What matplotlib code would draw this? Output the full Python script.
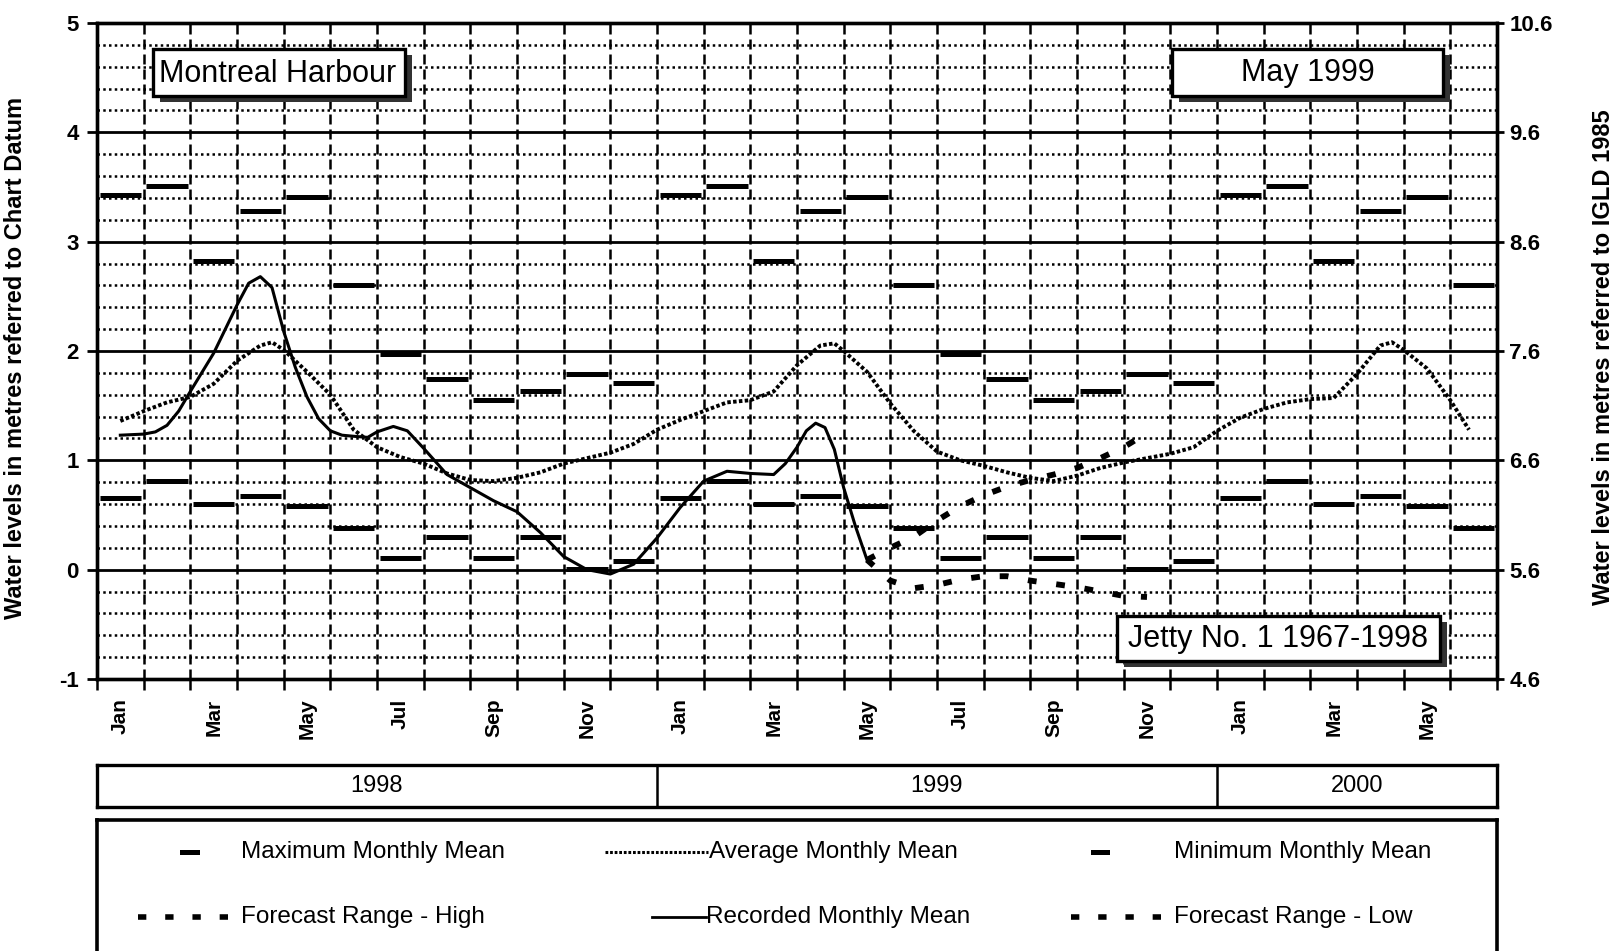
import numpy as np
import matplotlib
matplotlib.use("Agg")
import matplotlib.pyplot as plt
from matplotlib.patches import Rectangle
from matplotlib.lines import Line2D

plt.rcParams['font.family'] = ['Liberation Sans', 'DejaVu Sans']

# ---- data (t = months since 1 Jan 1998, 0.5 = mid January) ----
month_names = ['Jan', 'Feb', 'Mar', 'Apr', 'May', 'Jun',
               'Jul', 'Aug', 'Sep', 'Oct', 'Nov', 'Dec']
n_months = 30
years = ['1998', '1999', '2000']
year_lengths = [12, 12, 6]

# long-term monthly extremes, Jetty No. 1 1967-1998
max_monthly = [3.43, 3.51, 2.82, 3.28, 3.41, 2.60, 1.97, 1.74, 1.55, 1.63, 1.79, 1.71]
min_monthly = [0.66, 0.81, 0.60, 0.67, 0.58, 0.38, 0.11, 0.30, 0.11, 0.30, 0.01, 0.08]

avg_t = [0.5, 1.0, 1.5, 2.0, 2.5, 3.0, 3.5, 3.75, 4.0, 4.5, 5.0, 5.5, 6.0, 6.5,
         7.0, 7.5, 8.0, 8.5, 9.0, 9.5, 10.0, 10.5, 11.0, 11.5, 12.0, 12.5, 13.0,
         13.5, 14.0, 14.5, 15.0, 15.5, 15.8, 16.0, 16.5, 17.0, 17.5, 18.0, 18.5,
         19.0, 19.5, 20.0, 20.5, 21.0, 21.5, 22.0, 22.5, 23.0, 23.5, 24.0, 24.5,
         25.0, 25.5, 26.0, 26.5, 27.0, 27.5, 27.75, 28.0, 28.5, 29.0, 29.4]
avg_level = [1.36, 1.45, 1.53, 1.58, 1.70, 1.91, 2.05, 2.08, 2.01, 1.81, 1.60,
             1.28, 1.12, 1.03, 0.97, 0.88, 0.82, 0.81, 0.84, 0.89, 0.97, 1.02,
             1.07, 1.15, 1.28, 1.37, 1.45, 1.53, 1.55, 1.63, 1.87, 2.05, 2.07,
             2.00, 1.81, 1.52, 1.27, 1.08, 1.00, 0.95, 0.89, 0.84, 0.81, 0.86,
             0.93, 0.98, 1.02, 1.06, 1.12, 1.27, 1.39, 1.47, 1.53, 1.56, 1.57,
             1.79, 2.05, 2.08, 2.01, 1.84, 1.55, 1.28]

rec_t = [0.5, 1.0, 1.25, 1.5, 1.75, 2.0, 2.5, 3.0, 3.25, 3.5, 3.75, 4.0, 4.25,
         4.5, 4.75, 5.0, 5.25, 5.5, 5.8, 6.0, 6.35, 6.65, 7.0, 7.5, 8.0, 8.5,
         9.0, 9.5, 10.0, 10.5, 11.0, 11.5, 12.0, 12.5, 13.0, 13.5, 14.0, 14.5,
         14.75, 15.0, 15.2, 15.4, 15.6, 15.8, 16.0, 16.25, 16.5]
rec_level = [1.23, 1.24, 1.26, 1.32, 1.45, 1.63, 1.98, 2.42, 2.62, 2.68, 2.58,
             2.18, 1.85, 1.58, 1.38, 1.27, 1.23, 1.22, 1.21, 1.26, 1.31, 1.27,
             1.11, 0.87, 0.75, 0.63, 0.53, 0.34, 0.12, 0.00, -0.04, 0.05, 0.29,
             0.57, 0.81, 0.90, 0.88, 0.87, 0.97, 1.12, 1.27, 1.34, 1.30, 1.10,
             0.75, 0.40, 0.09]

fc_t = [16.5, 17.0, 17.5, 18.0, 18.5, 19.0, 19.5, 20.0, 20.5, 21.0, 21.5, 22.0, 22.5]
fc_high = [0.09, 0.20, 0.30, 0.45, 0.58, 0.68, 0.76, 0.82, 0.87, 0.93, 1.02, 1.12, 1.25]
fc_low = [0.09, -0.10, -0.17, -0.14, -0.09, -0.06, -0.06, -0.10, -0.13, -0.16,
          -0.20, -0.24, -0.25]

W, H = 1622, 951


def fx(x):
    return x / W


def fy(y):
    return 1 - y / H


fig = plt.figure(figsize=(W / 100, H / 100), dpi=100)
fig.patch.set_facecolor('white')

ax = fig.add_axes([fx(97), fy(679), 1400 / W, 656 / H])
ax.set_xlim(0, n_months)
ax.set_ylim(-1, 5)

# grid
for b in range(1, n_months):
    ax.axvline(b, color='black', lw=1.8, ls=(0, (4, 2)), zorder=1)
for v in range(0, 5):
    ax.axhline(v, color='black', lw=2.0, zorder=1)
for v in np.round(np.arange(-0.8, 5.0, 0.2), 1):
    if abs(v - round(v)) > 0.01:
        ax.axhline(v, color='black', lw=1.8, ls=(0, (1, 1.3)), zorder=1)

# monthly extremes
for i in range(n_months):
    m = i % 12
    ax.hlines(max_monthly[m], i + 0.06, i + 0.94, color='black', lw=3.6, zorder=3)
    ax.hlines(min_monthly[m], i + 0.06, i + 0.94, color='black', lw=3.6, zorder=3)

ax.plot(avg_t, avg_level, color='black', lw=2.8, ls=(0, (0.9, 0.6)), zorder=4)
ax.plot(rec_t, rec_level, color='black', lw=2.2, zorder=5)
ax.plot(fc_t, fc_high, color='black', lw=4.2, ls=(0, (1.5, 3.4)), zorder=5)
ax.plot(fc_t, fc_low, color='black', lw=4.2, ls=(0, (1.5, 3.4)), zorder=5)

# axes styling
for s in ax.spines.values():
    s.set_linewidth(2.4)
ax.set_yticks(range(-1, 6))
ax.set_yticklabels([str(v) for v in range(-1, 6)], fontsize=16, fontweight='bold')
ax.tick_params(axis='y', direction='out', length=7, width=2, pad=6)
ax.set_xticks(range(n_months + 1))
ax.set_xticklabels([])
ax.tick_params(axis='x', which='major', direction='out', length=8, width=1.8)
ax.set_xticks(np.arange(0.5, n_months, 2), minor=True)
ax.set_xticklabels([month_names[int(t) % 12] for t in np.arange(0.5, n_months, 2)],
                   minor=True, rotation=90, fontsize=15, fontweight='bold')
ax.tick_params(axis='x', which='minor', length=0, pad=14)
ax.set_ylabel('Water levels in metres referred to Chart Datum',
              fontsize=17, fontweight='bold')
ax.yaxis.set_label_coords(-0.05, 0.49)

ax2 = ax.twinx()
ax2.set_ylim(4.6, 10.6)
ax2.set_yticks(np.arange(4.6, 10.7, 1.0))
ax2.set_yticklabels([f'{v:.1f}' for v in np.arange(4.6, 10.7, 1.0)],
                    fontsize=16, fontweight='bold')
ax2.tick_params(axis='y', direction='out', length=5, width=2, pad=4)
for s in ax2.spines.values():
    s.set_linewidth(2.4)
ax2.set_ylabel('Water levels in metres referred to IGLD 1985',
               fontsize=17, fontweight='bold')
ax2.yaxis.set_label_coords(1.068, 0.49)

# year strip
yax = fig.add_axes([fx(97), fy(807), 1400 / W, 42 / H])
yax.set_xlim(0, n_months)
yax.set_ylim(0, 1)
yax.set_xticks([])
yax.set_yticks([])
for s in yax.spines.values():
    s.set_linewidth(2.4)
start = 0
for yr, n in zip(years, year_lengths):
    if start > 0:
        yax.axvline(start, color='black', lw=1.8)
    yax.text(start + n / 2, 0.5, yr, ha='center', va='center', fontsize=17)
    start += n

# legend box (pixel coordinates)
lax = fig.add_axes([fx(97), fy(965), 1400 / W, 145 / H])
lax.set_xlim(97, 1497)
lax.set_ylim(965, 820)
lax.set_xticks([])
lax.set_yticks([])
lax.spines['bottom'].set_visible(False)
for s in ['top', 'left', 'right']:
    lax.spines[s].set_linewidth(2.6)

r1, r2 = 852, 917
fs_leg = 17.5
lax.add_line(Line2D([182, 197], [r1, r1], color='black', lw=3.6))
lax.text(241, r1, 'Maximum Monthly Mean', va='center', fontsize=fs_leg)
lax.add_line(Line2D([605, 708], [r1, r1], color='black', lw=2.2, ls=(0, (0.9, 0.6))))
lax.text(709, r1, 'Average Monthly Mean', va='center', fontsize=fs_leg)
lax.add_line(Line2D([1093, 1107], [r1, r1], color='black', lw=3.6))
lax.text(1174, r1, 'Minimum Monthly Mean', va='center', fontsize=fs_leg)
lax.add_line(Line2D([138, 240], [r2, r2], color='black', lw=4.0, ls=(0, (1.5, 3.4))))
lax.text(241, r2, 'Forecast Range - High', va='center', fontsize=fs_leg)
lax.add_line(Line2D([652, 706], [r2, r2], color='black', lw=2.0))
lax.text(706, r2, 'Recorded Monthly Mean', va='center', fontsize=fs_leg)
lax.add_line(Line2D([1071, 1173], [r2, r2], color='black', lw=4.0, ls=(0, (1.5, 3.4))))
lax.text(1174, r2, 'Forecast Range - Low', va='center', fontsize=fs_leg)


def label_box(x0, y0, x1, y1, text, ha='center'):
    sh = Rectangle((fx(x0 + 7), fy(y1 + 6)), (x1 - x0) / W, (y1 - y0) / H,
                   transform=fig.transFigure, facecolor='#333333', edgecolor='none',
                   zorder=8)
    bx = Rectangle((fx(x0), fy(y1)), (x1 - x0) / W, (y1 - y0) / H,
                   transform=fig.transFigure, facecolor='white', edgecolor='black',
                   lw=2.4, zorder=9)
    fig.add_artist(sh)
    fig.add_artist(bx)
    tx = (x0 + x1) / 2 if ha == 'center' else x0 + 6
    fig.text(fx(tx), fy((y0 + y1) / 2 + 1), text, ha=ha, va='center',
             fontsize=22, zorder=10)


label_box(153, 49, 405, 96, 'Montreal Harbour', ha='left')
label_box(1172, 49, 1443, 96, 'May 1999')
label_box(1117, 616, 1440, 661, 'Jetty No. 1 1967-1998')

fig.savefig('out.png', dpi=100)
